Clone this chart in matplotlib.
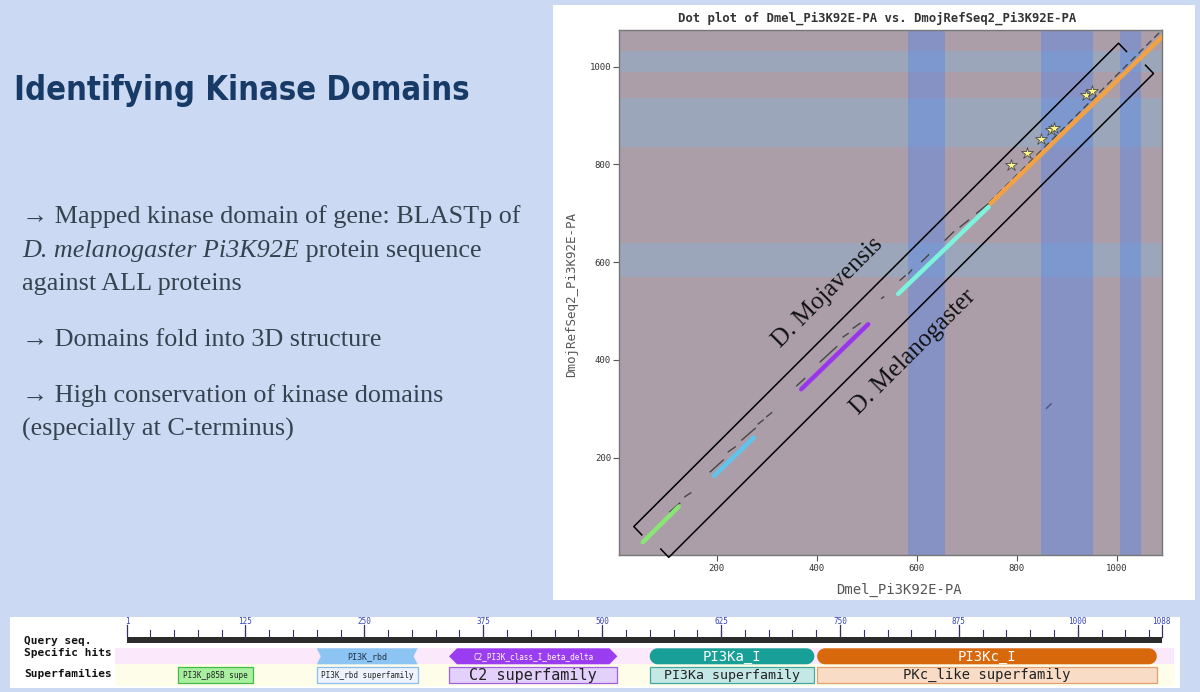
import numpy as np
import matplotlib
matplotlib.use("Agg")
import matplotlib.pyplot as plt
from matplotlib.patches import Rectangle, Polygon

W, H = 1200, 692
BG = "#cbdaf2"

# ---------------- slide text ----------------
slide_title = "Identifying Kinase Domains"
body_lines = [
    [("→ Mapped kinase domain of gene: BLASTp of", "normal")],
    [("D. melanogaster Pi3K92E", "italic"), (" protein sequence", "normal")],
    [("against ALL proteins", "normal")],
    [("→ Domains fold into 3D structure", "normal")],
    [("→ High conservation of kinase domains", "normal")],
    [("(especially at C-terminus)", "normal")],
]
body_baselines = [223, 257, 290, 346, 402, 436]

# ---------------- dot plot data ----------------
dot_title = "Dot plot of Dmel_Pi3K92E-PA vs. DmojRefSeq2_Pi3K92E-PA"
dmel_label = "Dmel_Pi3K92E-PA"
dmoj_label = "DmojRefSeq2_Pi3K92E-PA"
dot_ticks = [200, 400, 600, 800, 1000]
dmel_view = (5, 1091)
dmoj_view = (0, 1075)

dmel_domains = [(583, 656), (849, 952), (1006, 1048)]
dmoj_domains = [(570, 639), (836, 935), (990, 1033)]

# highlighted alignment hits
hit_dmel_start = [52, 195, 369, 563, 748]
hit_dmoj_start = [27, 163, 340, 535, 720]
hit_dmel_end = [124, 274, 503, 744, 1091]
hit_dmoj_end = [100, 241, 473, 713, 1061]
hit_colors = ["#8ae674", "#5ec4ee", "#9a35ee", "#7df2dc", "#f2a245"]

# short black hits
dash_x0 = [106, 136, 187, 223, 250, 283, 300, 360, 407, 453, 473, 530, 567, 584, 610, 657, 687, 720]
dash_y0 = [89, 120, 171, 212, 236, 269, 284, 347, 396, 447, 465, 526, 563, 577, 601, 645, 672, 700]
dash_x1 = [126, 148, 213, 237, 277, 293, 310, 376, 440, 463, 487, 534, 577, 590, 624, 674, 704, 744]
dash_y1 = [107, 128, 195, 222, 260, 277, 292, 362, 427, 454, 475, 529, 572, 584, 615, 662, 686, 720]
# long dashed hit along the C-terminus
cterm_dash = [(745, 722), (1091, 1075)]
stray_hit = [(860, 301), (869, 310)]

star_x = [789, 821, 849, 869, 875, 939, 951]
star_y = [799, 824, 853, 870, 874, 942, 951]

moj_bracket = [(34, 59), (1004, 1048)]
mel_bracket = [(104, -4), (1074, 986)]

# ---------------- CDD domain graphic ----------------
query_len = 1088
ruler_labels = [1, 125, 250, 375, 500, 625, 750, 875, 1000, 1088]
hit_names = ["PI3K_rbd", "C2_PI3K_class_I_beta_delta", "PI3Ka_I", "PI3Kc_I"]
hit_from = [200, 339, 550, 726]
hit_to = [306, 516, 723, 1083]
hit_shape = ["notch", "point", "round", "round"]
hit_fill = ["#8cc4f4", "#9a3cf0", "#18a098", "#d8680c"]
hit_text = ["#223344", "white", "white", "white"]
hit_size = [6, 5.5, 10, 10]

sf_names = ["PI3K_p85B supe", "PI3K_rbd superfamily", "C2 superfamily",
            "PI3Ka superfamily", "PKc_like superfamily"]
sf_from = [54, 200, 339, 550, 726]
sf_to = [133, 306, 516, 723, 1083]
sf_fill = ["#a8f0a0", "#eef4ff", "#e3d0fb", "#c4e8e6", "#f9dcc6"]
sf_edge = ["#44bb44", "#88bbee", "#a060e0", "#40a8a0", "#e0a070"]
sf_size = [5.5, 5.5, 11, 9.5, 10]

fig = plt.figure(figsize=(W / 100, H / 100), dpi=100, facecolor=BG)
renderer = fig.canvas.get_renderer()


def fx(px):
    return px / W


def fy(py):
    return 1 - py / H


# ---- white panels (behind the axes)
fig.patches.append(Rectangle((fx(553), fy(600)), (1195 - 553) / W, 595 / H,
                             transform=fig.transFigure, facecolor="white",
                             edgecolor="none", zorder=-5))
fig.patches.append(Rectangle((fx(10), fy(688)), 1170 / W, 71 / H,
                             transform=fig.transFigure, facecolor="white",
                             edgecolor="none", zorder=-5))

# ---- slide title, fitted to its width
t = fig.text(fx(14.5), fy(100), slide_title, fontsize=36, color="#173a66",
             family="DejaVu Sans", stretch="condensed", weight="bold",
             va="baseline", ha="left")
bb = t.get_window_extent(renderer)
t.set_fontsize(36 * 455 / bb.width)

# ---- bullets
serif = ["Liberation Serif", "DejaVu Serif"]
probe = fig.text(0, 0, body_lines[0][0][0], fontsize=20, family=serif)
body_size = 20 * 498 / probe.get_window_extent(renderer).width
probe.remove()
for segs, base in zip(body_lines, body_baselines):
    x = 22.4
    for txt, style in segs:
        tt = fig.text(fx(x), fy(base), txt, fontsize=body_size, family=serif,
                      style=style, color="#36424f", va="baseline", ha="left")
        x = tt.get_window_extent(renderer).x1

# ---------------- dot plot ----------------
ax = fig.add_axes([fx(619.3), fy(555.4), (1162 - 619.3) / W, (555.4 - 30) / H])
ax.set_xlim(*dmel_view)
ax.set_ylim(*dmoj_view)
ax.set_facecolor("#ab9ea9")
for y0, y1 in dmoj_domains:
    ax.axhspan(y0, y1, color="#9ca6bb", lw=0, zorder=0.5)
for x0, x1 in dmel_domains:
    ax.axvspan(x0, x1, color="#8692c4", lw=0, zorder=0.6)
    for y0, y1 in dmoj_domains:
        ax.add_patch(Rectangle((x0, y0), x1 - x0, y1 - y0, color="#7d98cf",
                               lw=0, zorder=0.7))

for a, b, c, d in zip(dash_x0, dash_y0, dash_x1, dash_y1):
    ax.plot([a, c], [b, d], color="#454545", lw=1.0, zorder=2)
ax.plot([p[0] for p in cterm_dash], [p[1] for p in cterm_dash], color="#454545",
        lw=1.0, ls=(0, (5, 3)), zorder=2)
ax.plot([p[0] for p in stray_hit], [p[1] for p in stray_hit], color="#4a4f80",
        lw=1.0, zorder=2)
for a, b, c, d, col in zip(hit_dmel_start, hit_dmoj_start, hit_dmel_end,
                           hit_dmoj_end, hit_colors):
    ax.plot([a, c], [b, d], color=col, lw=3.2, solid_capstyle="round", zorder=3)

ax.plot(star_x, star_y, ls="none", marker="*", ms=9, mfc="#fdf78a",
        mec="#4a4a4a", mew=0.6, zorder=4)

for (p0, p1), cap in [(moj_bracket, (16, -17)), (mel_bracket, (-16, 17))]:
    xs = [p0[0] + cap[0], p0[0], p1[0], p1[0] + cap[0]]
    ys = [p0[1] + cap[1], p0[1], p1[1], p1[1] + cap[1]]
    ax.plot(xs, ys, color="black", lw=1.1, clip_on=False, zorder=5)

ax.text(423, 537, "D. Mojavensis", rotation=45, rotation_mode="anchor",
        ha="center", va="center", fontsize=18, family=serif, color="#111111", zorder=6)
ax.text(593, 416, "D. Melanogaster", rotation=45, rotation_mode="anchor",
        ha="center", va="center", fontsize=18, family=serif, color="#111111", zorder=6)

ax.set_xticks(dot_ticks)
ax.set_yticks(dot_ticks)
ax.tick_params(length=4, width=0.8, color="#555555", labelsize=6.5,
               labelcolor="#333333", pad=2)
for lab in ax.get_xticklabels() + ax.get_yticklabels():
    lab.set_family("DejaVu Sans Mono")
for s in ax.spines.values():
    s.set_color("#777777")
    s.set_linewidth(1)

fig.text(fx(877.6), fy(18), dot_title, ha="center", va="center", fontsize=8.8,
         family="DejaVu Sans Mono", weight="bold", color="#333333")
fig.text(fx(898.6), fy(590), dmel_label, ha="center", va="center", fontsize=10,
         family="DejaVu Sans Mono", color="#555555")
fig.text(fx(572), fy(295), dmoj_label, ha="center", va="center", fontsize=9,
         rotation=90, family="DejaVu Sans Mono", color="#555555")

# ---------------- CDD graphic ----------------
cx = fig.add_axes([fx(10), fy(688), 1170 / W, 71 / H])
cx.set_xlim(-122.5, 1107.4)
cx.set_ylim(71, 0)
cx.axis("off")
kx = 1 / 0.9512  # residues per pixel


def domain_poly(x0, x1, y0, y1, kind):
    ym = (y0 + y1) / 2
    h = y1 - y0
    if kind == "round":
        r = h / 2
        tt = np.linspace(-np.pi / 2, np.pi / 2, 25)
        right = np.column_stack([x1 - r * kx + r * kx * np.cos(tt), ym + r * np.sin(tt)])
        left = np.column_stack([x0 + r * kx - r * kx * np.cos(tt), ym - r * np.sin(tt)])
        return np.vstack([right, left])
    if kind == "point":
        d = 8 * kx
        return [(x0 + d, y0), (x1 - d, y0), (x1, ym), (x1 - d, y1), (x0 + d, y1), (x0, ym)]
    if kind == "notch":
        d = 4 * kx
        return [(x0, y0), (x1, y0), (x1 - d, ym), (x1, y1), (x0, y1), (x0 + d, ym)]
    return [(x0, y0), (x1, y0), (x1, y1), (x0, y1)]


cx.add_patch(Rectangle((-12, 30.7), 1113, 16.6, facecolor="#fbe9fb", lw=0))
cx.add_patch(Rectangle((-12, 47.3), 1113, 21.7, facecolor="#fdfde9", lw=0))
cx.add_patch(Rectangle((1, 19.7), query_len - 1, 6.6, facecolor="#2b2b2b", lw=0))
for r in np.arange(25, query_len, 25):
    cx.plot([r, r], [13, 20], color="#333366", lw=0.8)
for r in ruler_labels:
    cx.plot([r, r], [8, 20], color="#333366", lw=0.9)
    cx.text(r, 4.7, str(r), ha="center", va="center", fontsize=5.5,
            family="DejaVu Sans Mono", color="#3344bb")

for lab, yy in [("Query seq.", 23.8), ("Specific hits", 36), ("Superfamilies", 56.5)]:
    cx.text(-108, yy, lab, ha="left", va="center", fontsize=8, weight="bold",
            family="DejaVu Sans Mono", color="#111111")

for name, a, b, shp, fc, tc, fs in zip(hit_names, hit_from, hit_to, hit_shape,
                                      hit_fill, hit_text, hit_size):
    cx.add_patch(Polygon(domain_poly(a, b, 31.3, 47.3, shp), closed=True,
                         facecolor=fc, edgecolor="none"))
    cx.text((a + b) / 2, 39.5, name, ha="center", va="center", fontsize=fs,
            family="DejaVu Sans Mono", color=tc)

for name, a, b, fc, ec, fs in zip(sf_names, sf_from, sf_to, sf_fill, sf_edge, sf_size):
    cx.add_patch(Polygon(domain_poly(a, b, 49.7, 66.3, "rect"), closed=True,
                         facecolor=fc, edgecolor=ec, lw=0.9))
    cx.text((a + b) / 2, 58.2, name, ha="center", va="center", fontsize=fs,
            family="DejaVu Sans Mono", color="#222222")

fig.savefig("out.png", dpi=100, facecolor=BG)
